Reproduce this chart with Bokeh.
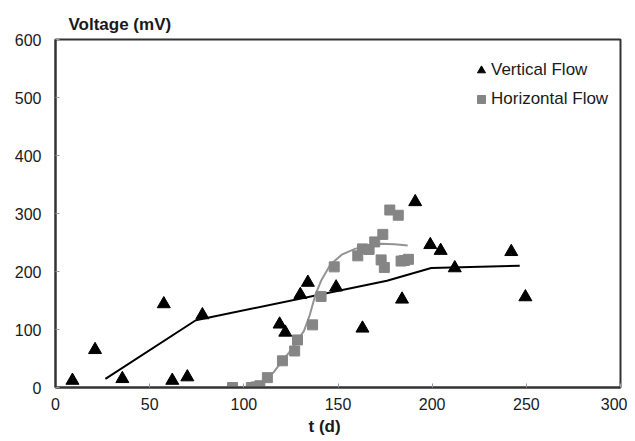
from bokeh.plotting import figure
from bokeh.models import Range1d, FixedTicker, Legend, LegendItem, Title
from bokeh.embed import file_html
from bokeh.resources import INLINE

# Vertical flow measurements (t in days, voltage in mV)
vert_t = [9, 21, 35.5, 57.5, 62, 70, 78, 119, 122, 130, 134, 149, 163, 184, 191, 199, 204.5, 212, 242, 249.5]
vert_v = [12, 65, 15, 144, 12, 18, 125, 109, 95, 160, 181, 173, 102, 152, 320, 246, 236, 206, 234, 156]

# Vertical flow trend line
vfit_t = [26.5, 74.5, 176, 199.5, 246.5]
vfit_v = [15, 116, 184, 206, 210]

# Horizontal flow measurements
hor_t = [94, 104, 106.5, 108.5, 112.5, 120.5, 127, 128.5, 136.5, 141, 148, 160.5, 163, 166.5, 169.5,
         173.8, 172.9, 174.6, 177.5, 182, 183.5, 185.3, 187.4]
hor_v = [0, 0, 1, 3, 17, 46, 63, 82, 108, 157, 208, 227, 239, 238, 251,
         264, 220, 207, 306, 297, 218, 219, 221]

# Horizontal flow trend line
hfit_t = [94, 104, 108, 112, 116, 120, 124, 128, 132, 135, 138, 141, 146, 152, 159, 166, 173, 180, 187]
hfit_v = [0, 0, 3, 14, 27, 44, 60, 78, 98, 125, 160, 184, 212, 229, 239, 245, 248, 247, 245]

x_ticks = [0, 50, 100, 150, 200, 250, 300]
y_ticks = [0, 100, 200, 300, 400, 500, 600]

FONT = "Liberation Sans"
TXT = "#1a1a1a"

p = figure(width=627, height=441, output_backend="svg", toolbar_location=None,
           x_range=Range1d(0, 300), y_range=Range1d(0, 600),
           min_border_left=55, min_border_right=7, min_border_top=39, min_border_bottom=54)

p.title = Title(text="Voltage (mV)", align="left", offset=13, standoff=12,
                text_font=FONT, text_font_style="bold", text_font_size="17px",
                text_color=TXT)

p.xgrid.visible = False
p.ygrid.visible = False
p.outline_line_color = "#333333"
p.outline_line_width = 2
p.background_fill_color = "white"
p.border_fill_color = "white"

for ax, ticks in ((p.xaxis, x_ticks), (p.yaxis, y_ticks)):
    ax.ticker = FixedTicker(ticks=ticks)
    ax.axis_line_color = "#333333"
    ax.axis_line_width = 2
    ax.major_tick_in = 4
    ax.major_tick_out = 0
    ax.major_tick_line_color = "#999999"
    ax.minor_tick_line_color = None
    ax.major_label_text_font = FONT
    ax.major_label_text_font_size = "16px"
    ax.major_label_text_color = TXT

p.yaxis.major_label_standoff = 14
p.xaxis.major_label_standoff = 10

p.add_layout(Title(text="t (d)", align="left", offset=253, standoff=4,
                   text_font=FONT, text_font_style="bold", text_font_size="17px",
                   text_color=TXT), "below")

r_vfit = p.line(vfit_t, vfit_v, line_color="black", line_width=2)
r_hfit = p.line(hfit_t, hfit_v, line_color="#939393", line_width=2)
r_h = p.scatter(hor_t, hor_v, marker="square", size=10, fill_color="#858585", line_color="#858585")
r_v = p.scatter(vert_t, vert_v, marker="triangle", size=13, fill_color="black", line_color="black")

legend = Legend(items=[LegendItem(label="Vertical Flow", renderers=[r_v]),
                       LegendItem(label="Horizontal Flow", renderers=[r_h])],
                location=(416, 278), border_line_color=None, background_fill_alpha=0,
                padding=0, margin=0, spacing=9, glyph_width=20, glyph_height=20,
                label_height=20, label_standoff=-2,
                label_text_font=FONT, label_text_font_size="17px", label_text_color=TXT)
p.add_layout(legend, "center")

open("out.html", "w").write(file_html(p, INLINE))
